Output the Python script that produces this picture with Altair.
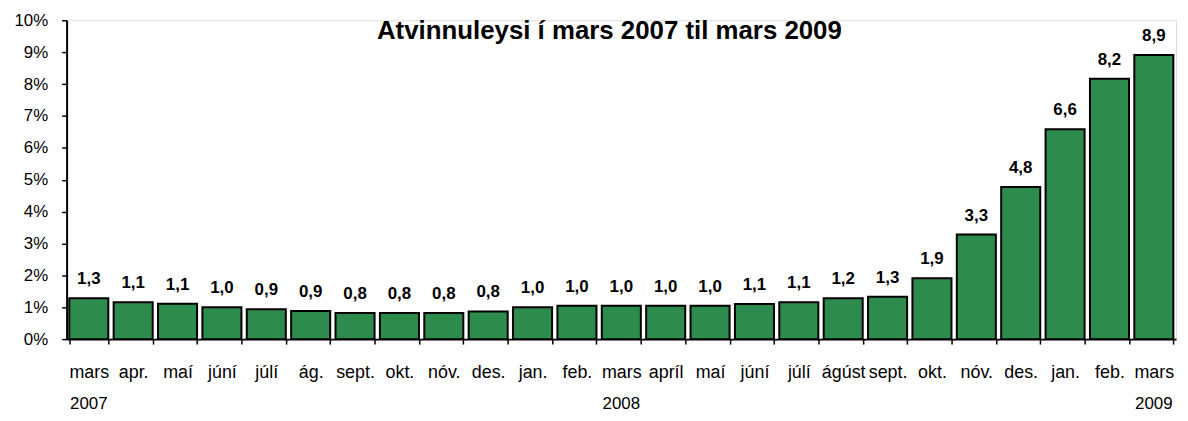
import altair as alt
import pandas as pd

keys = ["2007-03", "2007-04", "2007-05", "2007-06", "2007-07", "2007-08", "2007-09",
        "2007-10", "2007-11", "2007-12", "2008-01", "2008-02", "2008-03", "2008-04",
        "2008-05", "2008-06", "2008-07", "2008-08", "2008-09", "2008-10", "2008-11",
        "2008-12", "2009-01", "2009-02", "2009-03"]
month_labels = ["mars", "apr.", "maí", "júní", "júlí", "ág.", "sept.", "okt.", "nóv.",
                "des.", "jan.", "feb.", "mars", "apríl", "maí", "júní", "júlí", "ágúst",
                "sept.", "okt.", "nóv.", "des.", "jan.", "feb.", "mars"]
values = [1.28, 1.16, 1.11, 1.00, 0.94, 0.88, 0.82, 0.82, 0.82, 0.87, 1.00, 1.05, 1.05,
          1.05, 1.05, 1.10, 1.16, 1.28, 1.33, 1.91, 3.28, 4.77, 6.58, 8.17, 8.91]
value_labels = ["1,3", "1,1", "1,1", "1,0", "0,9", "0,9", "0,8", "0,8", "0,8", "0,8",
                "1,0", "1,0", "1,0", "1,0", "1,0", "1,1", "1,1", "1,2", "1,3", "1,9",
                "3,3", "4,8", "6,6", "8,2", "8,9"]
year_keys = ["2007-03", "2008-03", "2009-03"]
year_labels = ["2007", "2008", "2009"]
y_ticks = [0.00, 0.01, 0.02, 0.03, 0.04, 0.05, 0.06, 0.07, 0.08, 0.09, 0.10]
title_text = "Atvinnuleysi í mars 2007 til mars 2009"

df = pd.DataFrame({"key": keys, "month": month_labels,
                   "rate": [v / 100 for v in values], "label": value_labels})
years = pd.DataFrame({"key": year_keys, "year": year_labels})
title_df = pd.DataFrame({"t": [title_text]})

FONT = "Liberation Sans"
W, H = 1117, 321

label_map = "{" + ",".join(f"'{k}':'{m}'" for k, m in zip(keys, month_labels)) + "}"

x = alt.X("key:N", sort=keys,
          scale=alt.Scale(domain=keys, paddingInner=0.12, paddingOuter=0.06),
          axis=alt.Axis(title=None, labelAngle=0, labelFont=FONT, labelFontSize=18,
                        labelColor="#000000", labelPadding=20, labelOverlap=False,
                        labelExpr=f"{label_map}[datum.value]",
                        tickBand="extent", tickSize=5, tickColor="#000000", tickWidth=1.5,
                        domainColor="#000000", domainWidth=2, grid=False))

y = alt.Y("rate:Q",
          scale=alt.Scale(domain=[0, 0.10], nice=False),
          axis=alt.Axis(title=None, format=".0%", values=y_ticks,
                        labelFont=FONT, labelFontSize=17, labelColor="#000000",
                        labelOverlap=False, labelPadding=14, tickSize=5,
                        tickColor="#000000", tickWidth=1.5,
                        domainColor="#000000", domainWidth=2, grid=False))

bars = alt.Chart(df).mark_bar(color="#2E8B4E", stroke="#000000", strokeWidth=2).encode(
    x=x, y=y)

texts = alt.Chart(df).mark_text(font=FONT, fontSize=17, fontWeight="bold",
                                baseline="alphabetic", dy=-14, color="#000000").encode(
    x=x, y=y, text="label:N")

year_text = alt.Chart(years).mark_text(font=FONT, fontSize=17, baseline="alphabetic",
                                       color="#000000").encode(
    x=x, y=alt.value(H + 70), text="year:N")

title = alt.Chart(title_df).mark_text(font=FONT, fontSize=26, fontWeight="bold",
                                      baseline="alphabetic", align="center",
                                      color="#000000").encode(
    x=alt.value(W / 2 - 12), y=alt.value(19), text="t:N")

chart = alt.layer(bars, texts, year_text, title).properties(
    width=W, height=H,
    autosize=alt.AutoSizeParams(type="none"),
    padding={"left": 59, "top": 11, "right": 4, "bottom": 73},
).configure_view(stroke=None).configure(background="#ffffff")

chart.save("out.html", embed_options={"renderer": "svg", "actions": False})
